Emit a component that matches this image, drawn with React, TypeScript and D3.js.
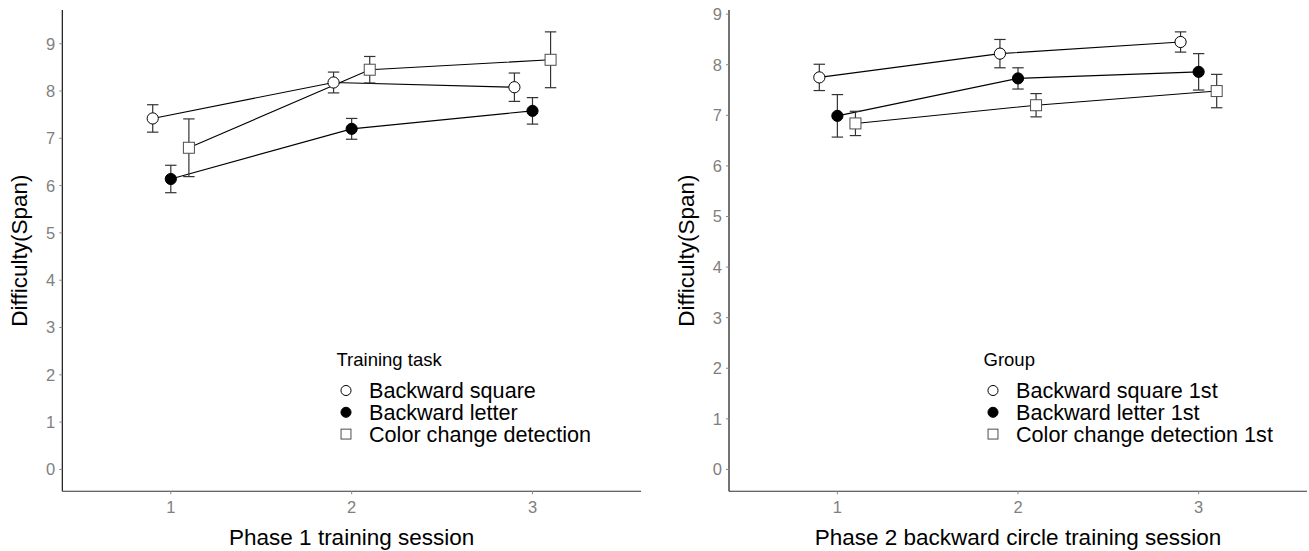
import * as d3 from 'd3'

// sessions (discrete x), three groups per panel
const sessions = [1, 2, 3]

const leftTitle = 'Training task'
const leftLabels = ['Backward square', 'Backward letter', 'Color change detection']
const leftSquareMean = [7.42, 8.18, 8.08]
const leftSquareSe = [0.29, 0.22, 0.3]
const leftLetterMean = [6.14, 7.2, 7.58]
const leftLetterSe = [0.29, 0.22, 0.28]
const leftColorMean = [6.8, 8.45, 8.66]
const leftColorSe = [0.61, 0.28, 0.59]

const rightTitle = 'Group'
const rightLabels = ['Backward square 1st', 'Backward letter 1st', 'Color change detection 1st']
const rightSquareMean = [7.75, 8.22, 8.45]
const rightSquareSe = [0.26, 0.28, 0.2]
const rightLetterMean = [6.99, 7.73, 7.86]
const rightLetterSe = [0.42, 0.21, 0.36]
const rightColorMean = [6.84, 7.2, 7.48]
const rightColorSe = [0.24, 0.23, 0.33]

const yTicks = [0, 1, 2, 3, 4, 5, 6, 7, 8, 9]
const shapes = ['open', 'filled', 'square']
const dodge = [-0.1, 0, 0.1]

const FONT = '"Liberation Sans", Arial, sans-serif'
const W = 1309
const H = 551

type Series = { mean: number[]; se: number[] }

function Marker({ kind, x, y, s = 1 }: { kind: string; x: number; y: number; s?: number }) {
  if (kind === 'square') {
    const h = 5.5 * s
    return <rect x={x - h} y={y - h} width={2 * h} height={2 * h} fill="#fff" stroke="#4d4d4d" strokeWidth={1} />
  }
  return <circle cx={x} cy={y} r={5.6 * s} fill={kind === 'filled' ? '#000' : '#fff'} stroke="#000" strokeWidth={1} />
}

function Panel({ left, right, series, xTitle, legendTitle, labels, legendX }: {
  left: number; right: number; series: Series[]; xTitle: string; legendTitle: string; labels: string[]; legendX: number
}) {
  const top = 10
  const bottom = 491.3
  const maxUpper = d3.max(series.flatMap((s) => s.mean.map((m, i) => m + s.se[i]))) as number
  const pad = maxUpper * 0.05
  const y = d3.scaleLinear().domain([-pad, maxUpper + pad]).range([bottom, top])
  const x = d3.scaleLinear().domain([0.4, 3.6]).range([left, right])
  const line = d3.line<number>()

  return (
    <g fontFamily={FONT}>
      {series.map((s, gi) => {
        const pts = sessions.map((sx, i) => [x(sx + dodge[gi]), y(s.mean[i])] as [number, number])
        return <path key={'l' + gi} d={line(pts) || ''} fill="none" stroke="#000" strokeWidth={1.1} />
      })}
      {series.map((s, gi) => sessions.map((sx, i) => {
        const cx = x(sx + dodge[gi])
        const y1 = y(s.mean[i] + s.se[i])
        const y2 = y(s.mean[i] - s.se[i])
        return (
          <g key={'e' + gi + i} stroke="#333" strokeWidth={1.2}>
            <line x1={cx} x2={cx} y1={y1} y2={y2} />
            <line x1={cx - 5.7} x2={cx + 5.7} y1={y1} y2={y1} />
            <line x1={cx - 5.7} x2={cx + 5.7} y1={y2} y2={y2} />
          </g>
        )
      }))}
      {series.map((s, gi) => sessions.map((sx, i) => (
        <Marker key={'m' + gi + i} kind={shapes[gi]} x={x(sx + dodge[gi])} y={y(s.mean[i])} />
      )))}

      <line x1={left} x2={left} y1={top} y2={bottom} stroke="#000" strokeWidth={1.1} />
      <line x1={left} x2={right} y1={bottom} y2={bottom} stroke="#333" strokeWidth={1.1} />
      {yTicks.map((t) => (
        <g key={'y' + t}>
          <line x1={left - 3} x2={left} y1={y(t)} y2={y(t)} stroke="#888" />
          <text x={left - 7} y={y(t)} dy="0.36em" textAnchor="end" fontSize={16.5} fill="#7f7f7f">{t}</text>
        </g>
      ))}
      {sessions.map((t) => (
        <g key={'x' + t}>
          <line x1={x(t)} x2={x(t)} y1={bottom} y2={bottom + 3} stroke="#888" />
          <text x={x(t)} y={bottom + 16} dy="0.36em" textAnchor="middle" fontSize={16.5} fill="#7f7f7f">{t}</text>
        </g>
      ))}
      <text x={(left + right) / 2} y={545} textAnchor="middle" fontSize={22.5} fill="#000">{xTitle}</text>
      <text transform={`translate(${left - 43},${(top + bottom) / 2}) rotate(-90)`} textAnchor="middle" dy="0.36em" fontSize={22.5} fill="#000">Difficulty(Span)</text>

      <text x={legendX} y={366} fontSize={18.5} fill="#000">{legendTitle}</text>
      {labels.map((lab, i) => {
        const cy = 390.5 + i * 21.8
        return (
          <g key={'lg' + i}>
            <Marker kind={shapes[i]} x={legendX + 9.5} y={cy} s={0.9} />
            <text x={legendX + 32.5} y={cy + 7.5} fontSize={21.6} fill="#000">{lab}</text>
          </g>
        )
      })}
    </g>
  )
}

export default function App() {
  const leftSeries: Series[] = [
    { mean: leftSquareMean, se: leftSquareSe },
    { mean: leftLetterMean, se: leftLetterSe },
    { mean: leftColorMean, se: leftColorSe },
  ]
  const rightSeries: Series[] = [
    { mean: rightSquareMean, se: rightSquareSe },
    { mean: rightLetterMean, se: rightLetterSe },
    { mean: rightColorMean, se: rightColorSe },
  ]
  return (
    <svg width={W} height={H} style={{ position: 'absolute', left: 0, top: 0, background: '#fff' }}>
      <rect width={W} height={H} fill="#fff" />
      <Panel left={62.3} right={641} series={leftSeries} xTitle="Phase 1 training session"
        legendTitle={leftTitle} labels={leftLabels} legendX={336.5} />
      <Panel left={729} right={1307} series={rightSeries} xTitle="Phase 2 backward circle training session"
        legendTitle={rightTitle} labels={rightLabels} legendX={983.5} />
    </svg>
  )
}
